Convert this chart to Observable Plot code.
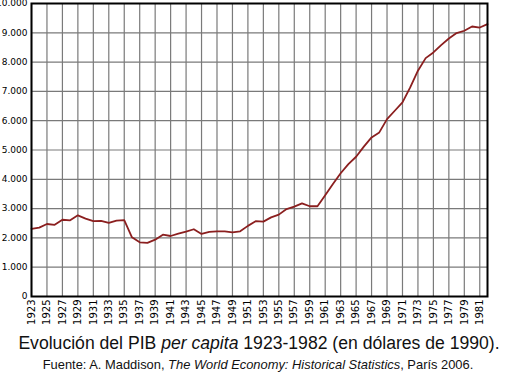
<!DOCTYPE html>
<html>
<head>
<meta charset="utf-8">
<script src="https://cdn.jsdelivr.net/npm/d3@7"></script>
<script src="https://cdn.jsdelivr.net/npm/@observablehq/plot@0.6"></script>
<style>
  html, body { margin: 0; padding: 0; background: #fff; }
  #wrap { width: 512px; }
  .cap1 { font-family: "Liberation Sans", Arial, sans-serif; font-size: 17.6px; line-height: 20px; text-align: center; margin: 1px 0 0 0; color: #111; padding-left: 6px; white-space: nowrap; }
  .cap2 { font-family: "Liberation Sans", Arial, sans-serif; font-size: 12.9px; line-height: 16px; text-align: center; margin: 4px 0 0 0; color: #111; padding-left: 4px; white-space: nowrap; }
</style>
</head>
<body>
<div id="wrap"></div>
<script>
const years = [1923,1924,1925,1926,1927,1928,1929,1930,1931,1932,1933,1934,1935,1936,1937,1938,1939,1940,1941,1942,1943,1944,1945,1946,1947,1948,1949,1950,1951,1952,1953,1954,1955,1956,1957,1958,1959,1960,1961,1962,1963,1964,1965,1966,1967,1968,1969,1970,1971,1972,1973,1974,1975,1976,1977,1978,1979,1980,1981,1982];
const gdp = [2305,2350,2475,2445,2620,2600,2770,2660,2570,2580,2510,2590,2610,2020,1850,1830,1940,2110,2065,2145,2215,2295,2135,2205,2225,2225,2190,2225,2410,2570,2555,2700,2795,2985,3070,3180,3080,3080,3455,3840,4205,4520,4770,5115,5430,5600,6055,6340,6625,7135,7705,8135,8330,8580,8805,8990,9070,9215,9180,9295];
const xTicks = [1923,1925,1927,1929,1931,1933,1935,1937,1939,1941,1943,1945,1947,1949,1951,1953,1955,1957,1959,1961,1963,1965,1967,1969,1971,1973,1975,1977,1979,1981];
const yTicks = [0,1000,2000,3000,4000,5000,6000,7000,8000,9000,10000];

const data = years.map((y, i) => ({year: y, value: gdp[i]}));
const es = d3.formatLocale({decimal: ",", thousands: ".", grouping: [3], currency: ["", "€"]});
const fmt = es.format(",");

const chart = Plot.plot({
  width: 512,
  height: 332,
  marginLeft: 31,
  marginRight: 25,
  marginTop: 3,
  marginBottom: 36,
  style: {fontFamily: "DejaVu Sans, sans-serif", background: "#fff", color: "#000"},
  x: {domain: [1923, 1982], range: [31, 487]},
  y: {domain: [0, 10000]},
  marks: [
    Plot.ruleX(xTicks, {stroke: "#7a7a7a", strokeWidth: 1.2}),
    Plot.ruleY(yTicks, {stroke: "#7a7a7a", strokeWidth: 1.2}),
    Plot.line(data, {x: "year", y: "value", stroke: "#8b1f1f", strokeWidth: 1.8}),
    Plot.frame({stroke: "#000", strokeWidth: 2}),
    Plot.axisY(yTicks, {tickFormat: fmt, tickSize: 0, tickPadding: 4, fontSize: 9, label: null}),
    Plot.axisX(xTicks, {tickFormat: d => String(d), tickSize: 0, tickPadding: 3, tickRotate: -90, fontSize: 10, label: null})
  ]
});

const wrap = document.getElementById("wrap");
wrap.appendChild(chart);
const c1 = document.createElement("p");
c1.className = "cap1";
c1.innerHTML = "Evolución del PIB <i>per capita</i> 1923-1982 (en dólares de 1990).";
const c2 = document.createElement("p");
c2.className = "cap2";
c2.innerHTML = "Fuente: A. Maddison, <i>The World Economy: Historical Statistics</i>, París 2006.";
wrap.appendChild(c1);
wrap.appendChild(c2);
</script>
</body>
</html>
